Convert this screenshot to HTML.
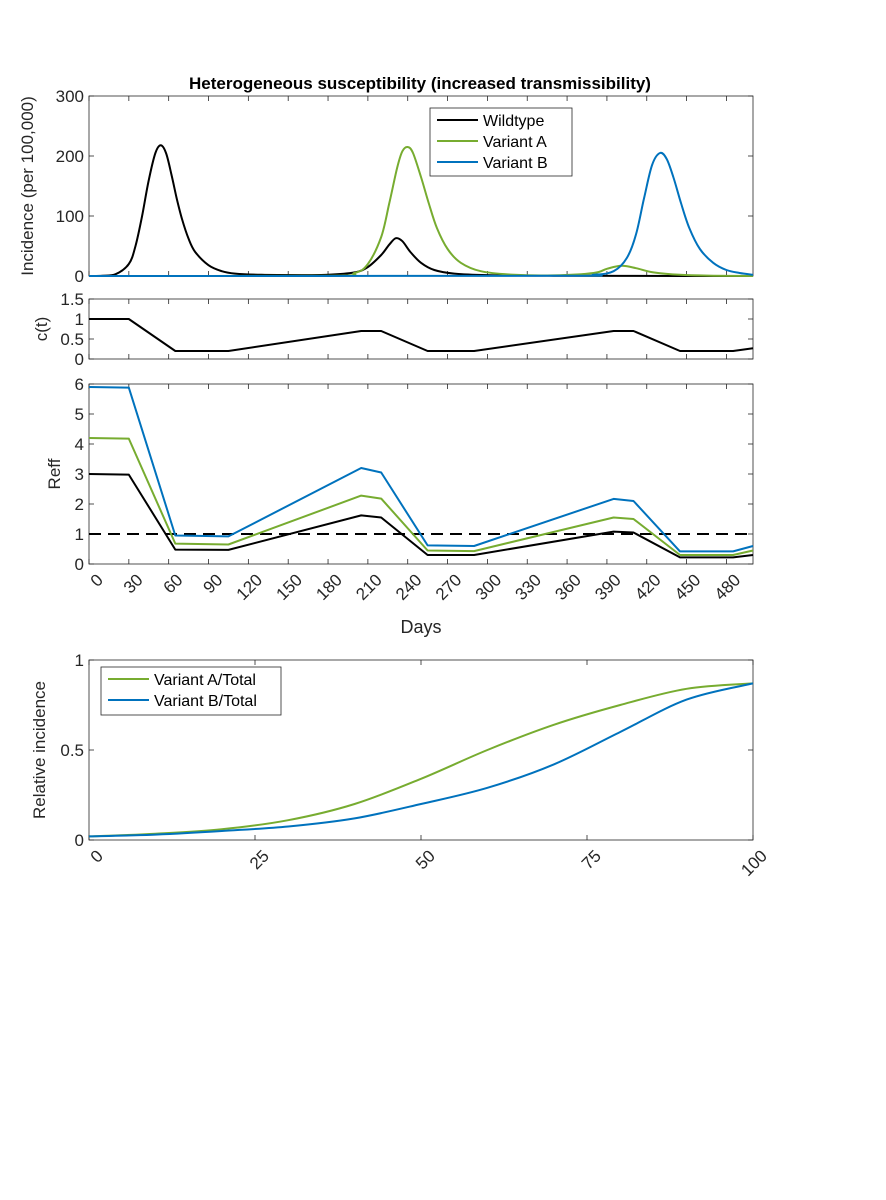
<!DOCTYPE html>
<html><head><meta charset="utf-8">
<style>
html,body{margin:0;padding:0;background:#fff;}
svg{display:block;font-family:"Liberation Sans",Arial,sans-serif;}
</style></head>
<body>
<svg id="fig" width="886" height="1200" viewBox="0 0 886 1200" xmlns="http://www.w3.org/2000/svg">
<rect width="886" height="1200" fill="#fff"/>
<text x="420" y="89" text-anchor="middle" font-size="17" font-weight="bold" fill="#000">Heterogeneous susceptibility (increased transmissibility)</text>
<g id="layer"></g>
</svg>
<script>
// ---- data ----
const incWildDays = [0,10,20,30,35,40,45,50,54,58,62,66,70,75,80,90,100,110,130,160,180,200,210,220,226,231,236,242,250,260,275,300,350,400,500];
const incWildVals = [0,0.5,3,20,50,100,160,205,218,205,170,130,95,62,40,18,8,4,2,1.5,2,6,15,35,52,63,58,40,22,10,4,1.5,0.5,0.2,0];
const incADays = [0,180,200,210,220,226,232,236,240,244,250,256,262,270,280,295,320,350,380,390,401,412,425,445,470,500];
const incAVals = [0,0.5,5,20,65,120,180,208,215,205,165,120,80,45,22,8,2,1,5,12,17,13,6,2,0.5,0];
const incBDays = [0,350,380,395,405,412,418,424,430,435,440,446,452,460,470,480,490,500];
const incBVals = [0,0.3,2,8,30,70,130,185,205,195,165,120,80,45,22,10,5,2];
const cDays = [0,30,65,105,205,220,255,290,395,410,445,485,500];
const cVals = [1,1,0.2,0.2,0.7,0.7,0.2,0.2,0.7,0.7,0.2,0.2,0.27];
const reffWild = [3,2.98,0.48,0.47,1.62,1.55,0.3,0.3,1.08,1.05,0.22,0.22,0.3];
const reffA = [4.2,4.18,0.68,0.65,2.28,2.18,0.45,0.43,1.55,1.5,0.3,0.3,0.45];
const reffB = [5.9,5.88,0.95,0.92,3.2,3.05,0.62,0.6,2.17,2.1,0.42,0.42,0.6];
const dayTicks = [0,30,60,90,120,150,180,210,240,270,300,330,360,390,420,450,480];
const relX = [0,10,20,30,40,50,60,70,80,90,100];
const relA = [0.02,0.035,0.06,0.11,0.2,0.34,0.5,0.64,0.75,0.84,0.87];
const relB = [0.02,0.03,0.05,0.075,0.12,0.2,0.29,0.42,0.6,0.78,0.87];
const relTicks = [0,25,50,75,100];

const NS="http://www.w3.org/2000/svg";
const L=document.getElementById('layer');
function mk(tag,attrs,parent){const e=document.createElementNS(NS,tag);for(const k in attrs)e.setAttribute(k,attrs[k]);(parent||L).appendChild(e);return e;}
const X0=89,X1=753;
function lin(d0,d1,r0,r1){return v=>r0+(v-d0)/(d1-d0)*(r1-r0);}
const xd=lin(0,500,X0,X1);
const GREEN="#77ac30",BLUE="#0072bd",BLK="#000";

function frame(name,y0,y1,xt,xs,yt,ys,ylab,ylx,xlabels){
  const g=mk('g',{});
  
  
  const r=mk('rect',{x:X0,y:y0,width:X1-X0,height:y1-y0,fill:'none',stroke:'#262626','stroke-width':0.8},g);
  
  
  xt.forEach(t=>{const x=xs(t);
    mk('line',{x1:x,x2:x,y1:y1,y2:y1-5,stroke:'#262626','stroke-width':0.8},g);
    mk('line',{x1:x,x2:x,y1:y0,y2:y0+5,stroke:'#262626','stroke-width':0.8},g);
    if(xlabels){const ax=x+6,ay=y1+8;
      const tx=mk('text',{x:ax,y:ay,'font-size':17,'text-anchor':'end',transform:`rotate(-45 ${ax} ${ay})`,dy:'0.75em',fill:'#262626'},g);
      tx.textContent=t;
      
      }
  });
  yt.forEach(t=>{const y=ys(t);
    mk('line',{x1:X0,x2:X0+5,y1:y,y2:y,stroke:'#262626','stroke-width':0.8},g);
    mk('line',{x1:X1,x2:X1-5,y1:y,y2:y,stroke:'#262626','stroke-width':0.8},g);
    const tx=mk('text',{x:X0-5,y:y+6,'font-size':17,'text-anchor':'end',fill:'#262626'},g);
    tx.textContent=t;
    
    
  });
  const yl=mk('text',{x:ylx,y:(y0+y1)/2,'font-size':17,'text-anchor':'middle',transform:`rotate(-90 ${ylx} ${(y0+y1)/2})`,fill:'#262626'},g);
  yl.textContent=ylab;
  
  
}
function line(xsArr,ysArr,xs,ys,color,name,dash,smooth){
  const P=xsArr.map((d,i)=>[xs(d),ys(ysArr[i])]);
  let dstr='M'+P[0][0].toFixed(1)+','+P[0][1].toFixed(1);
  for(let i=0;i<P.length-1;i++){
    if(!smooth){dstr+=' L'+P[i+1][0].toFixed(1)+','+P[i+1][1].toFixed(1);continue;}
    const p0=P[Math.max(0,i-1)],p1=P[i],p2=P[i+1],p3=P[Math.min(P.length-1,i+2)];
    let c1=[p1[0]+(p2[0]-p0[0])/6,p1[1]+(p2[1]-p0[1])/6];
    let c2=[p2[0]-(p3[0]-p1[0])/6,p2[1]-(p3[1]-p1[1])/6];
    dstr+=` C${c1[0].toFixed(1)},${c1[1].toFixed(1)} ${c2[0].toFixed(1)},${c2[1].toFixed(1)} ${p2[0].toFixed(1)},${p2[1].toFixed(1)}`;
  }
  const p=mk('path',{d:dstr,fill:'none',stroke:color,'stroke-width':2,'stroke-linejoin':'round'});
  if(dash)p.setAttribute('stroke-dasharray',dash);
  
  
}
function legend(x,y,w,h,items,name){
  const g=mk('g',{});
  
  
  mk('rect',{x:x,y:y,width:w,height:h,fill:'#fff',stroke:'#262626','stroke-width':0.8},g);
  items.forEach((it,i)=>{const cy=y+12+i*21;
    mk('line',{x1:x+7,x2:x+48,y1:cy,y2:cy,stroke:it[1],'stroke-width':2},g);
    const t=mk('text',{x:x+53,y:cy+6,'font-size':16,fill:'#000'},g);
    t.textContent=it[0];
    
    
  });
}

// Panel 1
const y1s=lin(0,300,276,96);
frame('incidence-panel',96,276,dayTicks,xd,[0,100,200,300],y1s,'Incidence (per 100,000)',33,false);
line(incWildDays,incWildVals,xd,y1s,BLK,'wildtype-incidence-line',null,true);
line(incADays,incAVals,xd,y1s,GREEN,'variant-a-incidence-line',null,true);
line(incBDays,incBVals,xd,y1s,BLUE,'variant-b-incidence-line',null,true);
legend(430,108,142,68,[['Wildtype',BLK],['Variant A',GREEN],['Variant B',BLUE]],'incidence-legend');

// Panel 2
const y2s=lin(0,1.5,359,299);
frame('contact-panel',299,359,dayTicks,xd,[0,0.5,1,1.5],y2s,'c(t)',47,false);
line(cDays,cVals,xd,y2s,BLK,'contact-line');

// Panel 3
const y3s=lin(0,6,564,384);
frame('reff-panel',384,564,dayTicks,xd,[0,1,2,3,4,5,6],y3s,'Reff',60,true);
line([0,500],[1,1],xd,y3s,BLK,'threshold-line','12,7');
line(cDays,reffWild,xd,y3s,BLK,'wildtype-reff-line');
line(cDays,reffA,xd,y3s,GREEN,'variant-a-reff-line');
line(cDays,reffB,xd,y3s,BLUE,'variant-b-reff-line');
const dl=mk('text',{x:421,y:633,'font-size':18,'text-anchor':'middle',fill:'#262626'});
dl.textContent='Days';



// Panel 4
const x4s=lin(0,100,X0,X1);
const y4s=lin(0,1,840,660);
frame('relative-panel',660,840,relTicks,x4s,[0,0.5,1],y4s,'Relative incidence',45,true);
line(relX,relA,x4s,y4s,GREEN,'variant-a-relative-line',null,true);
line(relX,relB,x4s,y4s,BLUE,'variant-b-relative-line',null,true);
legend(101,667,180,48,[['Variant A/Total',GREEN],['Variant B/Total',BLUE]],'relative-legend');
</script>
</body></html>
